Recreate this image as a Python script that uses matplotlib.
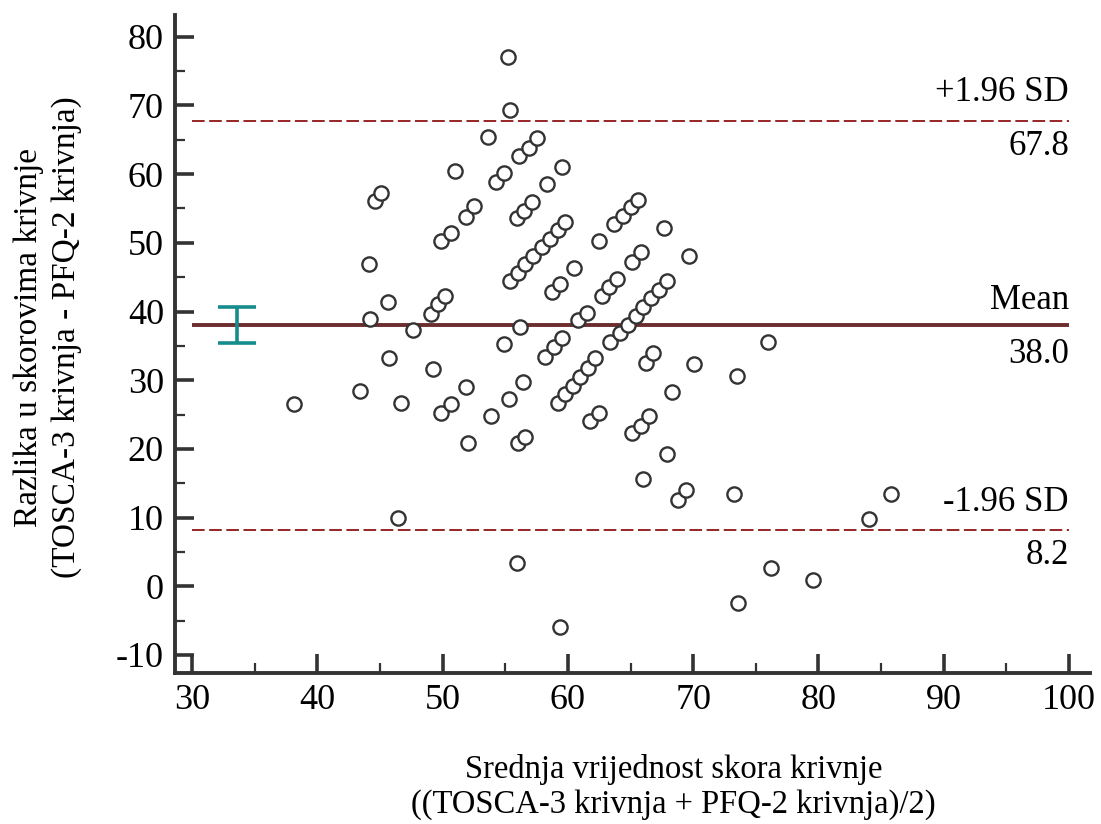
import matplotlib
matplotlib.use("Agg")
import matplotlib.pyplot as plt
from matplotlib.ticker import MultipleLocator
import numpy as np

plt.rcParams['font.family'] = ['Liberation Serif', 'DejaVu Serif']
plt.rcParams['axes.unicode_minus'] = False

# --- podaci (ocitano sa slike) ---
prosjek = [38.1, 43.4, 44.1, 44.2, 44.6, 45.1, 45.6, 45.7, 46.7, 46.4,
           47.6, 49.1, 49.6, 50.2, 49.2, 49.9, 50.7, 49.9, 50.7, 51.0,
           51.9, 51.9, 52.5, 52.0, 53.6, 53.9, 54.3, 54.9, 54.9, 55.2,
           55.4, 55.3, 55.4, 56.0, 56.6, 57.2, 57.9, 58.6, 59.2, 59.8,
           55.9, 56.5, 57.1, 58.3, 59.5, 56.1, 56.9, 57.5, 56.2, 56.4,
           56.0, 56.6, 55.9, 59.4, 58.2, 58.9, 59.5, 58.7, 59.4, 60.5,
           59.2, 59.8, 60.4, 61.0, 61.6, 62.2, 60.8, 61.5, 61.8, 62.5,
           62.5, 62.7, 63.3, 63.9, 63.4, 64.2, 64.8, 65.4, 66.0, 66.6,
           67.3, 67.9, 63.7, 64.4, 65.0, 65.6, 65.1, 65.8, 67.7, 69.7,
           65.1, 65.8, 66.5, 66.2, 66.8, 66.0, 67.9, 68.3, 68.8, 69.4,
           70.1, 73.5, 73.3, 76.0, 73.6, 76.2, 79.6, 84.0, 85.8]
razlika = [26.5, 28.4, 46.9, 38.9, 56.1, 57.2, 41.4, 33.3, 26.7, 9.9,
           37.3, 39.7, 41.1, 42.3, 31.7, 25.2, 26.5, 50.3, 51.4, 60.4,
           29.0, 53.8, 55.3, 20.9, 65.4, 24.8, 58.8, 60.2, 35.3, 77.1,
           69.3, 27.3, 44.4, 45.6, 46.9, 48.1, 49.4, 50.6, 51.9, 53.0,
           53.6, 54.7, 56.0, 58.6, 61.1, 62.6, 63.8, 65.2, 37.8, 29.8,
           20.8, 21.8, 3.4, -6.0, 33.4, 34.8, 36.2, 42.8, 44.0, 46.4,
           26.7, 28.0, 29.2, 30.5, 31.8, 33.2, 38.7, 39.8, 24.0, 25.2,
           50.3, 42.3, 43.5, 44.7, 35.5, 36.9, 38.1, 39.4, 40.6, 41.9,
           43.1, 44.4, 52.7, 53.9, 55.2, 56.3, 47.2, 48.6, 52.2, 48.1,
           22.3, 23.4, 24.8, 32.5, 33.9, 15.6, 19.2, 28.3, 12.6, 14.0,
           32.3, 30.6, 13.4, 35.6, -2.4, 2.7, 0.9, 9.8, 13.4]

sredina = 38.0
gornja_granica = 67.8
donja_granica = 8.2
ci_x = 33.6
ci_donji = 35.4
ci_gornji = 40.7

# --- graf ---
fig = plt.figure(figsize=(11.01, 8.24), dpi=100)
ax = fig.add_axes([0.159, 0.1833, 0.831, 0.7985])

ax.scatter(prosjek, razlika, s=105, facecolors='white', edgecolors='#333333',
           linewidths=1.7, zorder=3)

ax.hlines(sredina, 30, 100, color='#6b2d2d', linewidth=2.8, zorder=2)
ax.hlines([gornja_granica, donja_granica], 30, 100, color='#8f1414',
          linewidth=1.3, linestyles=(0, (7, 2.5)), zorder=2)

ax.errorbar([ci_x], [(ci_donji + ci_gornji) / 2],
            yerr=[[(ci_gornji - ci_donji) / 2], [(ci_gornji - ci_donji) / 2]],
            fmt='none', ecolor='#178c8c', elinewidth=2.6, capsize=13.5,
            capthick=2.6, zorder=4)

# oznake linija
fs_oznake = 25
ax.annotate('+1.96 SD', (100, gornja_granica), xytext=(0, 14), textcoords='offset points',
            ha='right', va='baseline', fontsize=fs_oznake)
ax.annotate(f'{gornja_granica:.1f}', (100, gornja_granica), xytext=(0, -24.5),
            textcoords='offset points', ha='right', va='baseline', fontsize=fs_oznake)
ax.annotate('Mean', (100, sredina), xytext=(0, 12), textcoords='offset points',
            ha='right', va='baseline', fontsize=fs_oznake)
ax.annotate(f'{sredina:.1f}', (100, sredina), xytext=(0, -27.5), textcoords='offset points',
            ha='right', va='baseline', fontsize=fs_oznake)
ax.annotate('-1.96 SD', (100, donja_granica), xytext=(0, 14), textcoords='offset points',
            ha='right', va='baseline', fontsize=fs_oznake)
ax.annotate(f'{donja_granica:.1f}', (100, donja_granica), xytext=(0, -24.5),
            textcoords='offset points', ha='right', va='baseline', fontsize=fs_oznake)

ax.set_xlim(28.64, 101.68)
ax.set_ylim(-12.62, 83.17)

ax.yaxis.set_major_locator(MultipleLocator(10))
ax.yaxis.set_minor_locator(MultipleLocator(5))
ax.set_xticks(np.arange(30, 101, 10))
ax.set_xticks(np.arange(35, 100, 10), minor=True)

for s in ['top', 'right']:
    ax.spines[s].set_visible(False)
for s in ['left', 'bottom']:
    ax.spines[s].set_color('#333333')
    ax.spines[s].set_linewidth(2.8)

ax.tick_params(which='major', direction='in', length=14, width=2.6, color='#333333',
               labelsize=26, pad=8)
ax.tick_params(which='minor', direction='in', length=7, width=1.6, color='#333333')

fig.text(0.612, 0.045, 'Srednja vrijednost skora krivnje\n((TOSCA-3 krivnja + PFQ-2 krivnja)/2)',
         ha='center', va='center', fontsize=23.5, linespacing=1.15)
fig.text(0.043, 0.591, 'Razlika u skorovima krivnje\n(TOSCA-3 krivnja - PFQ-2 krivnja)',
         ha='center', va='center', rotation=90, fontsize=24, linespacing=1.3)

fig.savefig('out.png', dpi=100)
